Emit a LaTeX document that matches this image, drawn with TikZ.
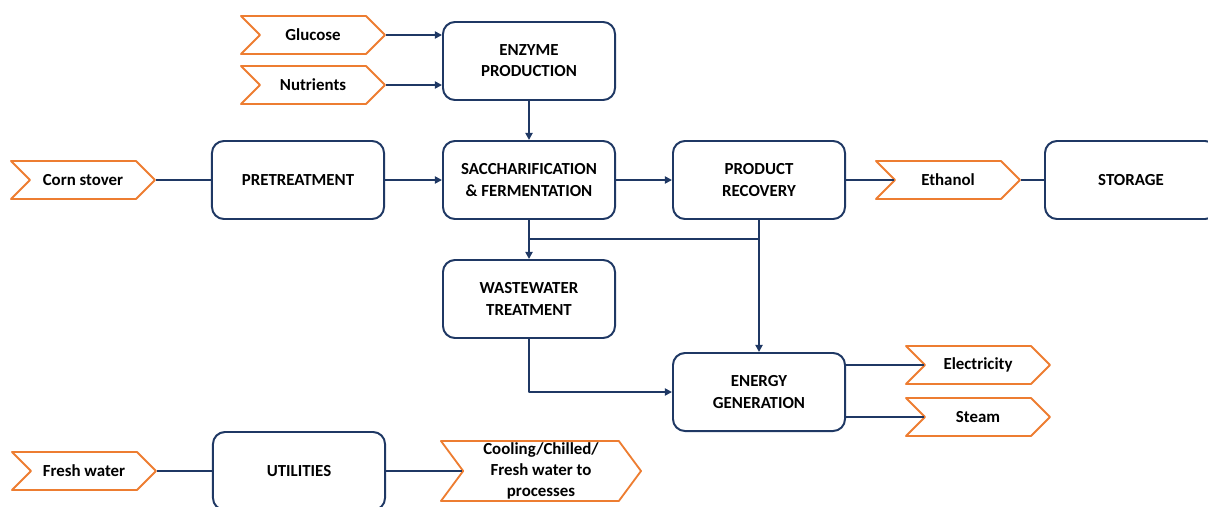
\documentclass[tikz,border=0pt]{standalone}
\usepackage{fontspec}
\setmainfont{Carlito}
\usetikzlibrary{shapes.symbols,arrows.meta}
\definecolor{navy}{RGB}{31,56,100}
\definecolor{stream}{RGB}{237,125,49}

\begin{document}
\begin{tikzpicture}[x=0.025cm,y=-0.025cm,line join=round,
  unit/.style={draw=navy,line width=1.4pt,rounded corners=0.3cm,minimum width=4.3cm,minimum height=1.95cm,align=center,font=\fontsize{12}{15}\selectfont\bfseries},
  feed/.style={draw=stream,line width=1.3pt,shape=signal,signal to=east,signal from=west,minimum width=3.6cm,minimum height=0.95cm,inner sep=0pt,align=center,font=\fontsize{12}{15}\selectfont\bfseries},
  link/.style={draw=navy,line width=1.2pt},
  flow/.style={link,-{Triangle[length=5pt,width=5pt]}}]
  \useasboundingbox (0,0) rectangle (1208,506);
  \clip (0,0) rectangle (1208,506);
  % process units
  \node[unit] (enzyme) at (529,61) {ENZYME\\PRODUCTION};
  \node[unit] (pretreat) at (298,180) {PRETREATMENT};
  \node[unit] (saccharif) at (529,180) {SACCHARIFICATION\\\& FERMENTATION};
  \node[unit] (recovery) at (759,180) {PRODUCT\\RECOVERY};
  \node[unit] (storage) at (1131,180) {STORAGE};
  \node[unit] (wastewater) at (529,299) {WASTEWATER\\TREATMENT};
  \node[unit] (energy) at (759,392) {ENERGY\\GENERATION};
  \node[unit] (utilities) at (299,471) {UTILITIES};
  % streams in and out
  \node[feed] (glucose) at (313,35) {Glucose};
  \node[feed] (nutrients) at (313,85) {Nutrients};
  \node[feed] (stover) at (83,180) {Corn stover};
  \node[feed] (ethanol) at (948,180) {Ethanol};
  \node[feed] (electricity) at (978,365) {Electricity};
  \node[feed] (steam) at (978,417) {Steam};
  \node[feed] (freshwater) at (84,471) {Fresh water};
  \node[feed,minimum width=5cm,minimum height=1.5cm,signal pointer angle=107] (cooling) at (541,471) {Cooling/Chilled/\\Fresh water to\\processes};
  % connections
  \draw[flow] (glucose.east) -- (glucose.east -| enzyme.west);
  \draw[flow] (nutrients.east) -- (nutrients.east -| enzyme.west);
  \draw[flow] (enzyme) -- (saccharif);
  \draw[link] (stover.east) -- (pretreat.west);
  \draw[flow] (pretreat) -- (saccharif);
  \draw[flow] (saccharif) -- (recovery);
  \draw[link] (recovery.east) -- (ethanol.west);
  \draw[link] (ethanol.east) -- (storage.west);
  \path (saccharif.south) -- (wastewater.north) coordinate[pos=0.487] (wsplit);
  \draw[flow] (saccharif) -- (wastewater);
  \draw[link] (wsplit) -- (wsplit -| recovery.south);
  \draw[flow] (recovery) -- (energy);
  \draw[flow] (wastewater.south) |- (energy.west);
  \draw[link] (electricity.west -| energy.east) -- (electricity.west);
  \draw[link] (steam.west -| energy.east) -- (steam.west);
  \draw[link] (freshwater.east) -- (utilities.west);
  \draw[link] (utilities.east) -- (cooling.west);
\end{tikzpicture}
\end{document}
